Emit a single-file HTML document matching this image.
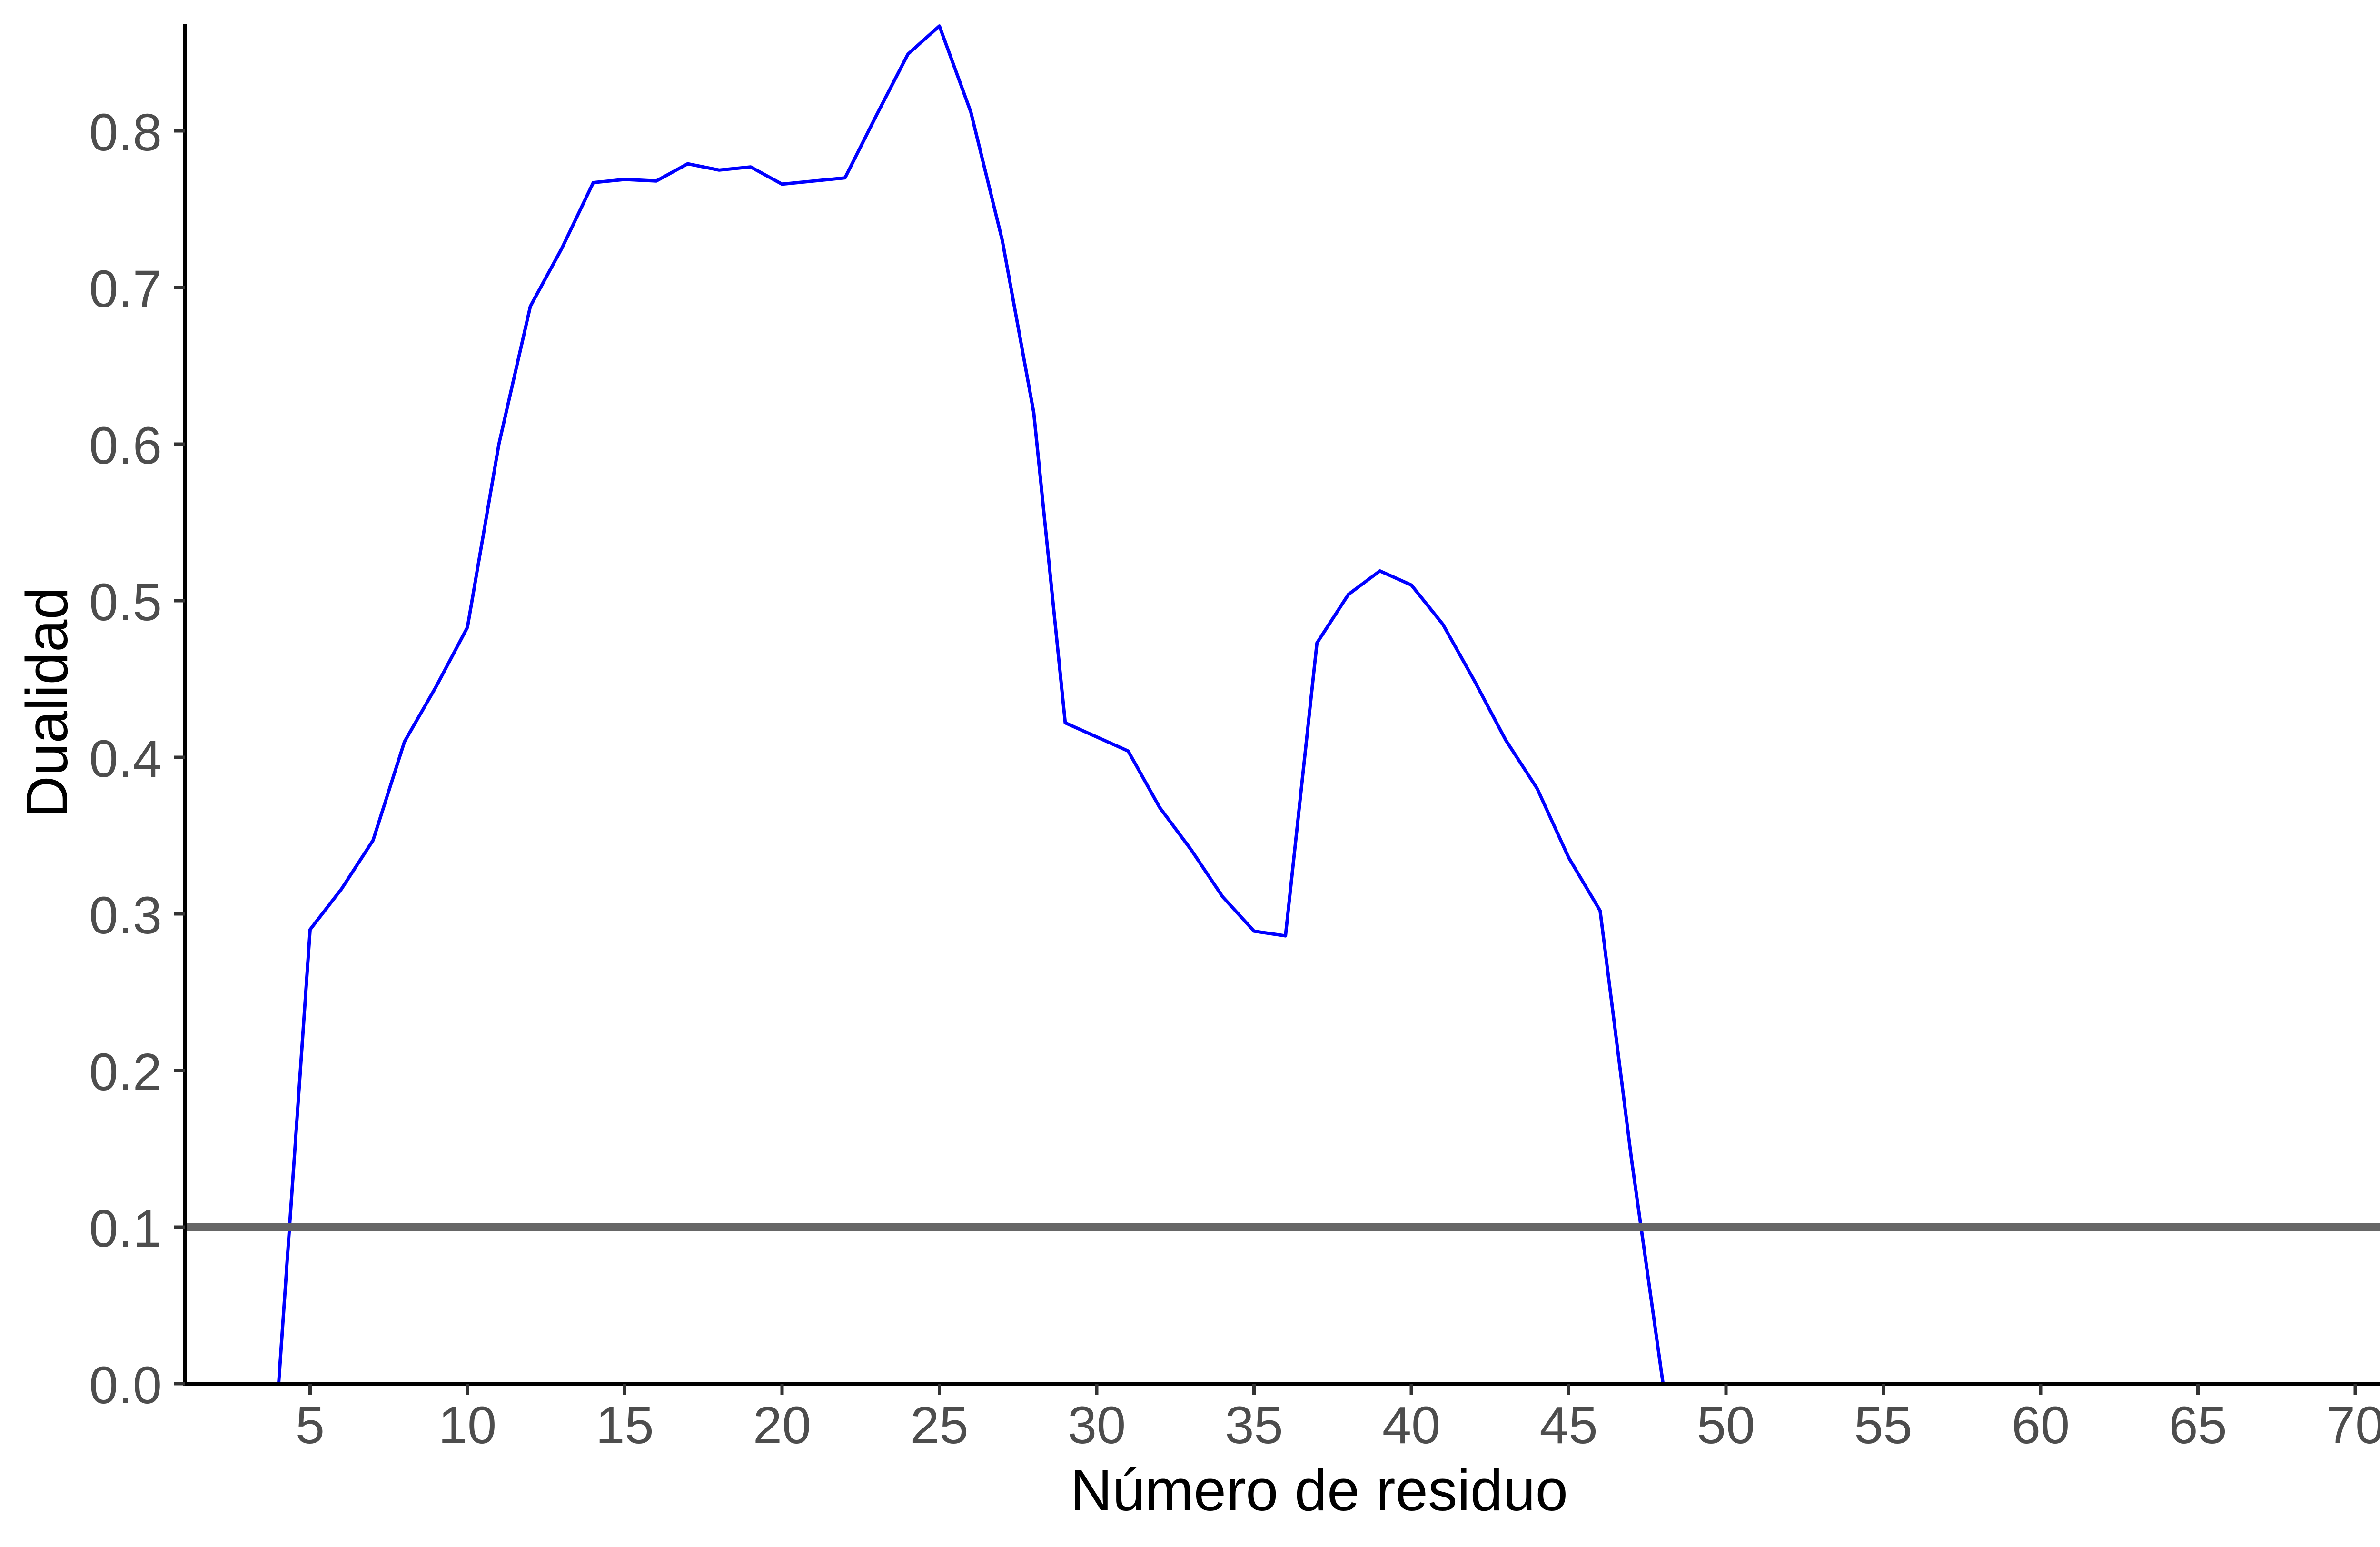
<!DOCTYPE html>
<html><head><meta charset="utf-8"><style>html,body{margin:0;padding:0;background:#fff}svg{display:block}</style></head>
<body>
<svg id="chart" width="5200" height="3250" viewBox="0 0 5200 3250" xmlns="http://www.w3.org/2000/svg" font-family="'Liberation Sans', sans-serif"></svg>
<script>
const residues = [1,2,3,4,5,6,7,8,9,10,11,12,13,14,15,16,17,18,19,20,21,22,23,24,25,26,27,28,29,30,31,32,33,34,35,36,37,38,39,40,41,42,43,44,45,46,47,48,49,50,51,52,53,54,55,56,57,58,59,60,61,62,63,64,65,66,67,68,69,70,71,72];
const duality = [0,0,0,0,0.29,0.316,0.347,0.41,0.445,0.483,0.60,0.688,0.725,0.767,0.769,0.768,0.779,0.775,0.777,0.766,0.768,0.770,0.81,0.849,0.867,0.812,0.73,0.62,0.422,0.413,0.404,0.368,0.341,0.311,0.289,0.286,0.473,0.504,0.519,0.51,0.485,0.449,0.411,0.38,0.336,0.302,0.143,0,0,0,0,0,0,0,0,0,0,0,0,0,0,0,0,0,0,0,0,0,0,0,0,0];
const xTicks = [5,10,15,20,25,30,35,40,45,50,55,60,65,70];
const yTicks = [0,0.1,0.2,0.3,0.4,0.5,0.6,0.7,0.8];
const threshold = [0.1];

const svg = document.getElementById('chart');
const NS = 'http://www.w3.org/2000/svg';
const X0 = 321, XS = 66.1, Y0 = 2907, YS = 3290;
const L = 389, R = 5173, T = 50, B = 2907;
const sx = v => X0 + v * XS;
const sy = v => Y0 - v * YS;
function mk(tag, attrs, text) {
  const e = document.createElementNS(NS, tag);
  for (const k in attrs) e.setAttribute(k, attrs[k]);
  if (text !== undefined) e.textContent = text;
  svg.appendChild(e);
  return e;
}
const defs = mk('defs', {});
const cp = document.createElementNS(NS, 'clipPath'); cp.setAttribute('id', 'pc');
const cr = document.createElementNS(NS, 'rect');
cr.setAttribute('x', L); cr.setAttribute('y', 0); cr.setAttribute('width', R - L); cr.setAttribute('height', B);
cp.appendChild(cr); defs.appendChild(cp);

const pts = residues.map((r, i) => sx(r).toFixed(1) + ',' + sy(duality[i]).toFixed(1)).join(' ');
const line = mk('polyline', {points: pts, fill: 'none', stroke: '#0000ff', 'stroke-width': 7, 'stroke-linejoin': 'round', 'clip-path': 'url(#pc)'});



threshold.forEach(t => {
  const h = mk('line', {x1: L, x2: R, y1: sy(t), y2: sy(t), stroke: '#666666', 'stroke-width': 17});
  
  
});

const ya = mk('line', {x1: L, x2: L, y1: T, y2: B + 4, stroke: '#000', 'stroke-width': 8});


const xa = mk('line', {x1: L - 4, x2: R, y1: B, y2: B, stroke: '#000', 'stroke-width': 8});



xTicks.forEach(t => {
  const tk = mk('line', {x1: sx(t), x2: sx(t), y1: B, y2: B + 24, stroke: '#333', 'stroke-width': 7});
  
  
  const lb = mk('text', {x: sx(t), y: 3032, 'text-anchor': 'middle', 'font-size': 110, fill: '#4d4d4d'}, String(t));
  
  
});
yTicks.forEach(t => {
  const tk = mk('line', {x1: L - 24, x2: L, y1: sy(t), y2: sy(t), stroke: '#333', 'stroke-width': 7});
  
  
  const lb = mk('text', {x: 340, y: sy(t) + 41, 'text-anchor': 'end', 'font-size': 110, fill: '#4d4d4d'}, t.toFixed(1));
  
  
});

const xt = mk('text', {x: 2771, y: 3173, 'text-anchor': 'middle', 'font-size': 123, fill: '#000'}, 'Número de residuo');


const yt = mk('text', {x: 0, y: 0, 'text-anchor': 'middle', 'font-size': 123, fill: '#000', transform: 'translate(141,1476) rotate(-90)'}, 'Dualidad');


</script>
</body></html>
